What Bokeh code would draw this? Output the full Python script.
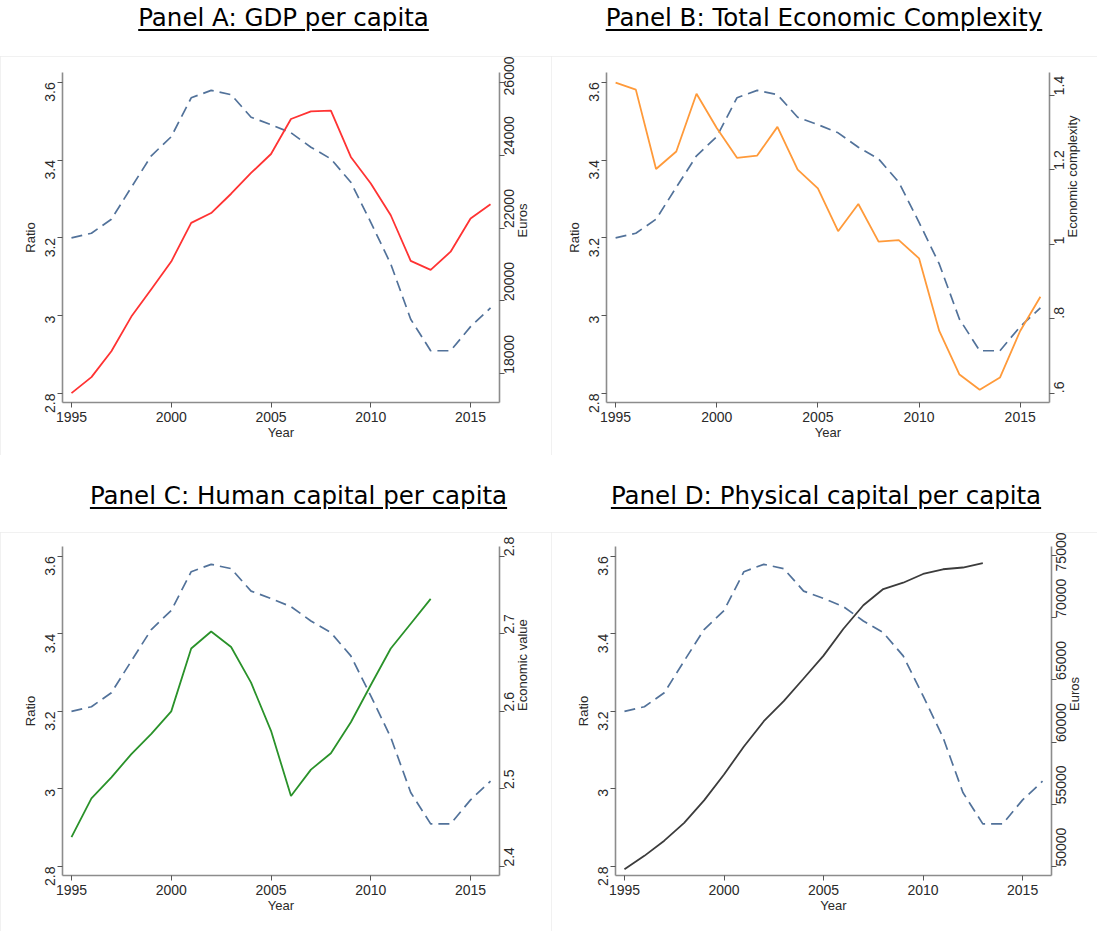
import math
from bokeh.plotting import figure
from bokeh.models import Range1d, LinearAxis, FixedTicker, Div
from bokeh.layouts import column, row
from bokeh.embed import file_html
from bokeh.resources import INLINE

# ---------------- data ----------------
years = [1995, 1996, 1997, 1998, 1999, 2000, 2001, 2002, 2003, 2004, 2005,
         2006, 2007, 2008, 2009, 2010, 2011, 2012, 2013, 2014, 2015, 2016]
years_short = [1995, 1996, 1997, 1998, 1999, 2000, 2001, 2002, 2003, 2004,
               2005, 2006, 2007, 2008, 2009, 2010, 2011, 2012, 2013]

ratio = [3.200, 3.212, 3.248, 3.330, 3.411, 3.460, 3.560, 3.579, 3.568, 3.510, 3.491,
         3.470, 3.433, 3.403, 3.343, 3.240, 3.133, 2.991, 2.910, 2.910, 2.972, 3.020]

gdp = [17470, 17910, 18620, 19570, 20320, 21080, 22140, 22410, 22940, 23510, 24030,
       24990, 25200, 25220, 23950, 23220, 22350, 21100, 20850, 21350, 22260, 22650]

eci = [1.434, 1.415, 1.202, 1.249, 1.404, 1.312, 1.232, 1.238, 1.315, 1.200, 1.150,
       1.035, 1.108, 1.007, 1.011, 0.962, 0.767, 0.650, 0.609, 0.642, 0.767, 0.859]

human_capital = [2.438, 2.488, 2.515, 2.545, 2.571, 2.600, 2.681, 2.703, 2.683, 2.637,
                 2.575, 2.491, 2.525, 2.546, 2.586, 2.634, 2.681, 2.713, 2.745]

physical_capital = [49780, 50860, 52080, 53510, 55320, 57400, 59650, 61680, 63300, 65110,
                    66950, 69110, 71000, 72300, 72810, 73510, 73890, 74030, 74380]

titles = ["Panel A: GDP per capita", "Panel B: Total Economic Complexity",
          "Panel C: Human capital per capita", "Panel D: Physical capital per capita"]

x_ticks = [1995, 2000, 2005, 2010, 2015]
ratio_ticks = [2.8, 3, 3.2, 3.4, 3.6]
ratio_labels = ["2.8", "3", "3.2", "3.4", "3.6"]
gdp_ticks = [18000, 20000, 22000, 24000, 26000]
gdp_labels = ["18000", "20000", "22000", "24000", "26000"]
eci_ticks = [0.6, 0.8, 1, 1.2, 1.4]
eci_labels = [".6", ".8", "1", "1.2", "1.4"]
hc_ticks = [2.4, 2.5, 2.6, 2.7, 2.8]
hc_labels = ["2.4", "2.5", "2.6", "2.7", "2.8"]
pk_ticks = [50000, 55000, 60000, 65000, 70000, 75000]
pk_labels = ["50000", "55000", "60000", "65000", "70000", "75000"]

# ---------------- styling ----------------
DASH_COLOR = "#52729a"
AXIS_COLOR = "#8c8c8c"
TEXT_COLOR = "#2a2a2a"
TICK_FONT = "Liberation Sans"


def style_axis(ax, ticks, labels, vertical=True):
    ax.ticker = FixedTicker(ticks=ticks)
    ax.major_label_overrides = {t: l for t, l in zip(ticks, labels)}
    ax.axis_line_color = AXIS_COLOR
    ax.axis_line_width = 1.6
    ax.major_tick_line_color = "#555555"
    ax.major_tick_out = 5
    ax.major_tick_in = 0
    ax.minor_tick_line_color = None
    ax.major_label_text_font = TICK_FONT
    ax.major_label_text_font_size = "14px"
    ax.major_label_text_color = TEXT_COLOR
    ax.axis_label_text_font = TICK_FONT
    ax.axis_label_text_font_size = "13px"
    ax.axis_label_text_font_style = "normal"
    ax.axis_label_text_color = TEXT_COLOR
    if vertical:
        ax.major_label_orientation = math.pi / 2


def make_panel(width, height, bl, br, bt, bb, right_range, right_ticks, right_labels,
               right_title, xs, ys, color, lw=1.8):
    p = figure(width=width, height=height, output_backend="svg", toolbar_location=None,
               x_range=Range1d(1994.55, 2016.45), y_range=Range1d(2.777, 3.625),
               min_border_left=bl, min_border_right=br, min_border_top=bt,
               min_border_bottom=bb,
               styles={"outline": "1px solid #ececec", "outline-offset": "-1px"})
    p.outline_line_color = None
    p.grid.visible = False
    p.background_fill_color = "white"
    p.border_fill_color = "white"
    p.extra_y_ranges = {"r": Range1d(*right_range)}

    xa = p.xaxis[0]
    style_axis(xa, x_ticks, [str(t) for t in x_ticks], vertical=False)
    xa.axis_label = "Year"
    xa.major_label_standoff = 4
    xa.axis_label_standoff = 0

    ya = p.yaxis[0]
    style_axis(ya, ratio_ticks, ratio_labels)
    ya.axis_label = "Ratio"
    ya.major_label_standoff = 7
    ya.axis_label_standoff = 0

    ra = LinearAxis(y_range_name="r", axis_label=right_title)
    style_axis(ra, right_ticks, right_labels)
    ra.major_label_standoff = 5
    ra.axis_label_standoff = 0
    ra.axis_label_orientation = math.pi / 2
    p.add_layout(ra, "right")

    p.line(years, ratio, line_color=DASH_COLOR, line_width=1.7, line_dash="11 6")
    p.line(xs, ys, line_color=color, line_width=lw, y_range_name="r")
    return p


def title_div(text, width, height, pad_top, pad_left):
    html = ("<div style=\"width:%dpx; height:%dpx; box-sizing:border-box; overflow:hidden; "
            "padding-left:%dpx; padding-top:%dpx; text-align:center; "
            "font-family:'DejaVu Sans'; font-size:24.5px; line-height:24px; color:#000; "
            "text-decoration:underline; text-underline-offset:3px; "
            "white-space:nowrap;\">%s</div>" % (width, height, pad_left, pad_top, text))
    return Div(text=html, width=width, height=height,
               styles={"margin": "0", "padding": "0"})


W_L, W_R = 551, 546
TH1, TH2 = 56, 77
H1, H2 = 399, 399

pA = make_panel(W_L, H1, 62, 52, 16, 53, (17213, 26266), gdp_ticks, gdp_labels, "Euros",
                years, gdp, "#ff3333")
pB = make_panel(W_R, H1, 55, 48, 16, 53, (0.575, 1.461), eci_ticks, eci_labels,
                "Economic complexity", years, eci, "#ff9a3a")
pC = make_panel(W_L, H2, 62, 52, 14, 56, (2.3885, 2.8125), hc_ticks, hc_labels,
                "Economic value", years_short, human_capital, "#2a922a")
pD = make_panel(W_R, H2, 64, 46, 14, 56, (49281, 75719), pk_ticks, pk_labels, "Euros",
                years_short, physical_capital, "#3c3c3c")

tA = title_div(titles[0], W_L, TH1, 6, 16)
tB = title_div(titles[1], W_R, TH1, 6, 0)
tC = title_div(titles[2], W_L, TH2, 29, 46)
tD = title_div(titles[3], W_R, TH2, 29, 4)

layout = column(
    row(column(tA, pA), column(tB, pB)),
    row(column(tC, pC), column(tD, pD)),
)

with open("out.html", "w") as f:
    f.write(file_html(layout, INLINE))
